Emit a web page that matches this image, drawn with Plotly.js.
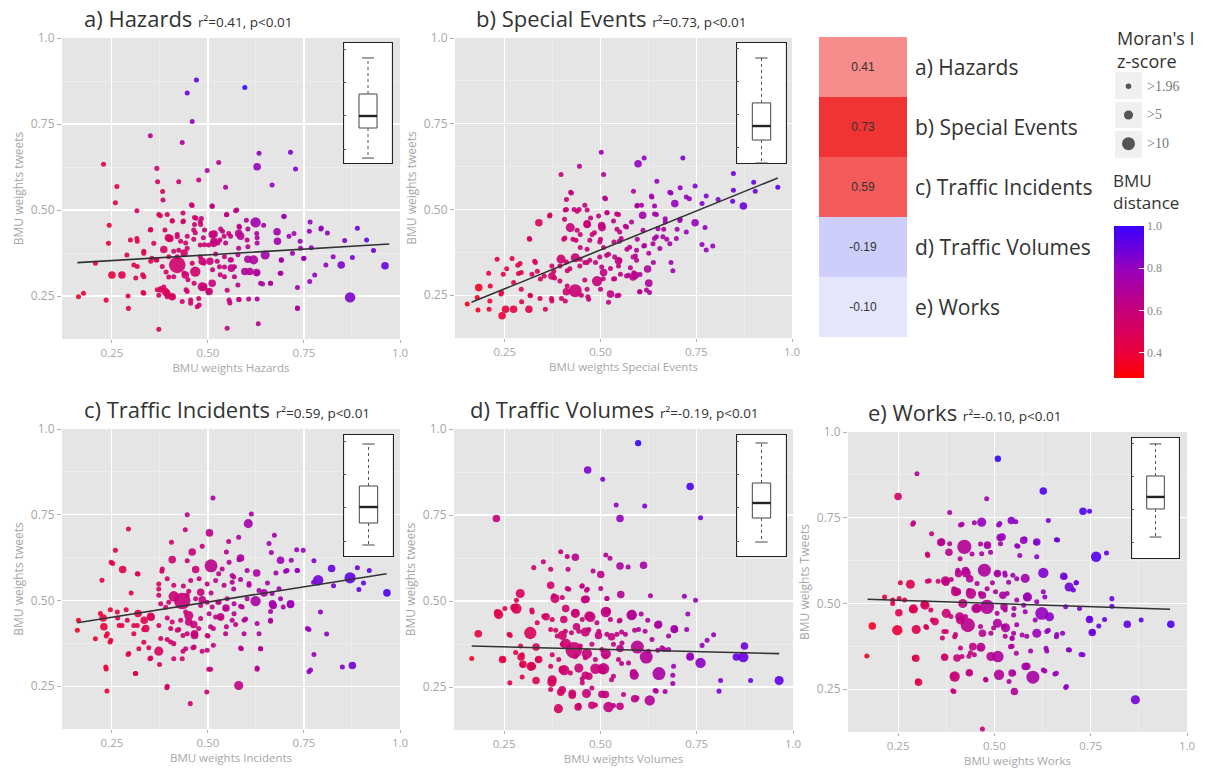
<!DOCTYPE html>
<html><head><meta charset="utf-8">
<script src="https://cdn.plot.ly/plotly-3.0.1.min.js"></script>
<style>html,body{margin:0;padding:0;background:#fff;}#chart{width:1205px;height:769px;}</style>
</head><body><div id="chart"></div>
<script>
// ---------- categories / labels ----------
const panels = ['a) Hazards','b) Special Events','c) Traffic Incidents','d) Traffic Volumes','e) Works'];
const rValues = [0.41,0.73,0.59,-0.19,-0.10];
const xTitles = ['BMU weights Hazards','BMU weights Special Events','BMU weights Incidents','BMU weights Volumes','BMU weights Works'];
const yTitles = ['BMU weights tweets','BMU weights tweets','BMU weights tweets','BMU weights tweets','BMU weights Tweets'];
const tickVals = [0.25,0.5,0.75,1.0];
const tickText = ['0.25','0.50','0.75','1.0'];
const legendZ = [1.96,5,10];
const legendLabels = ['>1.96','>5','>10'];
const cbVals = [0.4,0.6,0.8,1.0];
const cbText = ['0.4','0.6','0.8','1.0'];

// ---------- a) Hazards ----------
const aX = [0.470,0.596,0.446,0.459,0.350,0.433,0.228,0.367,0.498,0.528,
0.633,0.715,0.728,0.628,0.667,0.546,0.476,0.424,0.369,0.263,
0.259,0.382,0.315,0.459,0.511,0.548,0.572,0.624,0.698,0.766,
0.794,0.889,0.913,0.856,0.931,0.961,0.870,0.876,0.847,0.807,
0.826,0.778,0.765,0.733,0.733,0.749,0.741,0.720,0.724,0.680,
0.649,0.619,0.604,0.596,0.628,0.663,0.637,0.691,0.690,0.580,
0.580,0.604,0.582,0.602,0.554,0.531,0.515,0.491,0.480,0.463,
0.463,0.435,0.407,0.401,0.388,0.420,0.424,0.398,0.420,0.467,
0.441,0.411,0.489,0.511,0.502,0.530,0.543,0.569,0.569,0.578,
0.550,0.489,0.480,0.376,0.393,0.407,0.372,0.385,0.446,0.455,
0.472,0.476,0.433,0.557,0.580,0.606,0.628,0.631,0.550,0.372,
0.293,0.292,0.331,0.333,0.307,0.276,0.250,0.207,0.176,0.163,
0.235,0.289,0.298,0.241,0.243,0.350,0.359,0.376,0.367,0.333,
0.354,0.446,0.459,0.543,0.558,0.502,0.420,0.435,0.469,0.480,
0.520,0.315,0.391,0.533,0.600,0.516,
0.383,0.457,0.511,0.549,0.575,0.372,0.394,0.407,0.436,0.465,
0.483,0.465,0.481,0.351,0.316,0.333,0.397,0.420,0.429,0.442,
0.446,0.467,0.488,0.491,0.511,0.516,0.526,0.542,0.538,0.546,
0.559,0.585,0.581,0.604,0.645,0.627,0.628,0.628,0.681,0.711,
0.740,0.764,0.795,0.811,0.698,0.750,0.769,0.691,0.688,0.385,
0.438,0.411,0.381,0.398,0.438,0.448,0.485,0.505,0.524,0.512,
0.532,0.543,0.561,0.561,0.578,0.609,0.627,0.642,0.663,0.485,
0.503,0.464,0.443,0.455,0.477,0.377,0.389,0.407,0.394,0.368,
0.333,0.312,0.330,0.316,0.351,0.365,0.555,0.581,0.733];
const aY = [0.878,0.856,0.840,0.757,0.716,0.696,0.633,0.621,0.615,0.638,
0.665,0.668,0.619,0.626,0.573,0.566,0.587,0.582,0.582,0.568,
0.521,0.554,0.498,0.513,0.510,0.486,0.498,0.464,0.481,0.465,
0.445,0.447,0.413,0.411,0.382,0.338,0.246,0.362,0.340,0.340,
0.364,0.311,0.292,0.275,0.214,0.359,0.389,0.374,0.432,0.437,
0.369,0.355,0.357,0.321,0.316,0.287,0.287,0.355,0.316,0.432,
0.389,0.393,0.450,0.413,0.432,0.413,0.403,0.442,0.466,0.442,
0.415,0.466,0.469,0.417,0.442,0.422,0.383,0.364,0.340,0.321,
0.311,0.306,0.277,0.287,0.263,0.335,0.306,0.306,0.335,0.282,
0.267,0.345,0.364,0.267,0.258,0.248,0.252,0.276,0.263,0.229,
0.219,0.243,0.234,0.230,0.240,0.241,0.241,0.169,0.156,0.153,
0.214,0.250,0.260,0.306,0.340,0.311,0.311,0.345,0.258,0.248,
0.238,0.369,0.413,0.403,0.456,0.442,0.403,0.483,0.355,0.374,
0.360,0.389,0.345,0.364,0.355,0.398,0.364,0.491,0.476,0.398,
0.372,0.417,0.320,0.445,0.470,0.430,
0.529,0.515,0.512,0.487,0.500,0.487,0.487,0.468,0.468,0.478,
0.475,0.458,0.458,0.443,0.409,0.380,0.419,0.429,0.409,0.404,
0.424,0.434,0.419,0.399,0.429,0.409,0.404,0.424,0.438,0.404,
0.424,0.424,0.453,0.445,0.456,0.432,0.419,0.404,0.409,0.424,
0.409,0.438,0.448,0.433,0.482,0.360,0.390,0.354,0.316,0.385,
0.375,0.380,0.336,0.305,0.316,0.297,0.351,0.351,0.351,0.326,
0.312,0.334,0.331,0.355,0.370,0.321,0.318,0.285,0.287,0.277,
0.263,0.287,0.268,0.238,0.224,0.272,0.263,0.248,0.248,0.268,
0.258,0.302,0.312,0.336,0.351,0.355,0.238,0.240,0.215];
const aDist = [0.90,1.00,0.88,0.80,0.65,0.68,0.45,0.55,0.70,0.65,
0.82,0.85,0.85,0.80,0.80,0.70,0.60,0.55,0.50,0.45,
0.45,0.50,0.50,0.55,0.60,0.60,0.65,0.75,0.75,0.80,
0.80,0.90,0.90,0.85,0.90,0.90,0.85,0.85,0.85,0.80,
0.80,0.80,0.80,0.75,0.70,0.75,0.75,0.75,0.75,0.75,
0.75,0.70,0.70,0.70,0.70,0.70,0.70,0.70,0.70,0.65,
0.65,0.65,0.65,0.65,0.60,0.60,0.60,0.60,0.55,0.55,
0.55,0.55,0.50,0.50,0.50,0.55,0.55,0.50,0.55,0.55,
0.55,0.55,0.55,0.60,0.60,0.60,0.60,0.65,0.65,0.65,
0.60,0.55,0.55,0.50,0.50,0.50,0.50,0.50,0.55,0.55,
0.55,0.55,0.55,0.60,0.65,0.65,0.70,0.65,0.60,0.50,
0.45,0.45,0.45,0.45,0.45,0.45,0.40,0.40,0.40,0.35,
0.40,0.45,0.45,0.40,0.40,0.50,0.50,0.50,0.50,0.45,
0.50,0.55,0.55,0.60,0.62,0.60,0.55,0.55,0.55,0.55,
0.60,0.45,0.50,0.60,0.70,0.60,
0.55,0.58,0.62,0.62,0.65,0.50,0.52,0.52,0.55,0.55,
0.58,0.55,0.58,0.48,0.45,0.45,0.52,0.55,0.55,0.55,
0.55,0.58,0.58,0.58,0.60,0.60,0.60,0.62,0.62,0.62,
0.62,0.65,0.65,0.68,0.72,0.70,0.70,0.70,0.75,0.78,
0.78,0.80,0.82,0.82,0.78,0.78,0.80,0.75,0.72,0.52,
0.55,0.55,0.52,0.52,0.55,0.55,0.58,0.58,0.60,0.60,
0.60,0.62,0.62,0.62,0.65,0.68,0.70,0.70,0.70,0.58,
0.58,0.55,0.55,0.55,0.55,0.50,0.50,0.52,0.50,0.50,
0.45,0.45,0.45,0.45,0.48,0.50,0.60,0.62,0.72];
const aMoran = [1.6,1.6,1.6,1.6,1.6,1.6,1.6,1.6,1.6,1.6,
1.6,1.6,1.6,3.5,1.6,1.6,1.6,1.6,1.6,1.6,
1.6,1.6,1.6,1.6,1.6,1.6,1.6,6.5,1.6,1.6,
1.6,1.6,1.6,1.6,1.6,3.5,6.5,1.6,3.5,1.6,
1.6,1.6,1.6,1.6,1.6,1.6,1.6,1.6,1.6,3.5,
5,5,3.5,3.5,1.6,1.6,1.6,1.6,1.6,3.5,
1.6,1.6,1.6,1.6,1.6,1.6,3.5,1.6,1.6,1.6,
1.6,1.6,1.6,3.5,1.6,1.6,1.6,1.6,16,6.5,
3.5,1.6,3.5,3.5,1.6,1.6,1.6,1.6,1.6,1.6,
1.6,1.6,1.6,1.6,3.5,1.6,1.6,1.6,1.6,1.6,
1.6,1.6,1.6,1.6,1.6,1.6,1.6,1.6,1.6,1.6,
1.6,1.6,1.6,1.6,1.6,3.5,3.5,1.6,1.6,1.6,
1.6,1.6,1.6,1.6,1.6,1.6,1.6,1.6,1.6,1.6,
1.6,1.6,1.6,1.6,1.6,1.6,1.6,1.6,1.6,1.6,
1.6,1.6,1.6,1.6,1.6,3.5,
1.6,1.6,1.6,1.6,1.6,1.6,1.6,1.6,1.6,1.6,
1.6,1.6,1.6,1.6,1.6,1.6,3.5,1.6,1.6,1.6,
1.6,1.6,1.6,1.6,3.5,3.5,1.6,1.6,1.6,1.6,
1.6,3.5,1.6,1.6,1.6,1.6,1.6,1.6,3.5,1.6,
1.6,1.6,1.6,1.6,1.6,1.6,1.6,1.6,1.6,3.5,
3.5,1.6,1.6,1.6,1.6,1.6,3.5,3.5,1.6,1.6,
1.6,1.6,3.5,1.6,1.6,3.5,3.5,1.6,1.6,5,
3.5,1.6,1.6,1.6,1.6,1.6,3.5,3.5,1.6,1.6,
1.6,1.6,1.6,1.6,1.6,1.6,1.6,1.6,1.6];

// ---------- b) Special Events ----------
const bX = [0.502,0.445,0.397,0.508,0.598,0.614,0.715,0.647,0.708,0.747,
0.684,0.634,0.732,0.776,0.807,0.847,0.847,0.845,0.900,0.904,
0.963,0.873,0.765,0.694,0.747,0.773,0.765,0.793,0.776,0.595,
0.513,0.424,0.610,0.646,0.669,0.700,0.708,0.665,0.641,0.673,
0.613,0.626,0.591,0.638,0.684,0.689,0.623,0.626,0.628,0.602,
0.591,0.573,0.578,0.547,0.552,0.547,0.569,0.554,0.543,0.534,
0.565,0.547,0.517,0.504,0.484,0.495,0.465,0.421,0.465,0.408,
0.439,0.406,0.447,0.478,0.404,0.428,0.447,0.465,0.521,0.508,
0.500,0.487,0.465,0.447,0.434,0.397,0.373,0.373,0.413,0.394,
0.434,0.465,0.491,0.508,0.526,0.543,0.521,0.500,0.469,0.413,
0.408,0.373,0.356,0.343,0.330,0.321,0.293,0.293,0.313,0.317,
0.273,0.252,0.243,0.240,0.212,0.182,0.178,0.180,0.209,0.211,
0.152,0.230,0.208,0.246,0.269,0.273,0.284,0.339,0.367,0.315,
0.411,0.586,0.641,0.596,0.534,
0.422,0.511,0.633,0.681,0.724,0.596,0.607,0.641,0.669,0.707,
0.368,0.411,0.431,0.444,0.459,0.465,0.474,0.503,0.517,0.542,
0.550,0.568,0.581,0.611,0.650,0.646,0.663,0.637,0.615,0.594,
0.576,0.549,0.535,0.498,0.472,0.436,0.407,0.314,0.439,0.328,
0.335,0.353,0.378,0.380,0.394,0.411,0.420,0.446,0.459,0.472,
0.498,0.516,0.537,0.550,0.503,0.526,0.459,0.507,0.537,0.568,
0.585,0.587,0.603,0.411,0.450,0.467,0.398,0.372,0.342,0.316,
0.294,0.548,0.603,0.620,0.255,0.286,0.290,0.242,0.585,0.594,
0.655,0.681,0.698,0.724];
const bY = [0.667,0.626,0.602,0.602,0.633,0.650,0.650,0.582,0.563,0.568,
0.548,0.536,0.531,0.539,0.529,0.605,0.556,0.524,0.579,0.553,
0.565,0.510,0.517,0.517,0.461,0.447,0.398,0.393,0.382,0.510,
0.531,0.548,0.483,0.485,0.463,0.442,0.471,0.442,0.415,0.413,
0.393,0.372,0.364,0.345,0.345,0.321,0.326,0.285,0.258,0.260,
0.308,0.308,0.330,0.335,0.311,0.350,0.384,0.415,0.442,0.466,
0.451,0.485,0.490,0.447,0.432,0.481,0.456,0.447,0.498,0.498,
0.495,0.471,0.427,0.427,0.413,0.413,0.389,0.384,0.369,0.389,
0.413,0.345,0.345,0.355,0.359,0.355,0.335,0.306,0.321,0.291,
0.263,0.267,0.291,0.316,0.253,0.248,0.229,0.267,0.238,0.277,
0.233,0.233,0.209,0.297,0.345,0.311,0.316,0.267,0.209,0.248,
0.209,0.209,0.190,0.253,0.277,0.272,0.243,0.207,0.209,0.233,
0.224,0.355,0.314,0.311,0.357,0.287,0.337,0.461,0.481,0.413,
0.529,0.553,0.510,0.413,0.297,
0.550,0.533,0.539,0.550,0.536,0.512,0.512,0.487,0.473,0.468,
0.484,0.500,0.500,0.500,0.512,0.458,0.475,0.453,0.490,0.487,
0.434,0.449,0.463,0.439,0.444,0.420,0.420,0.400,0.395,0.381,
0.390,0.407,0.405,0.405,0.410,0.410,0.417,0.415,0.439,0.349,
0.320,0.306,0.320,0.300,0.335,0.347,0.327,0.335,0.345,0.352,
0.361,0.366,0.361,0.352,0.332,0.328,0.294,0.298,0.298,0.306,
0.303,0.315,0.310,0.260,0.250,0.245,0.240,0.240,0.240,0.250,
0.231,0.250,0.260,0.265,0.327,0.313,0.342,0.258,0.361,0.352,
0.386,0.400,0.415,0.434];
const bDist = [0.75,0.70,0.60,0.70,0.80,0.80,0.85,0.80,0.80,0.85,
0.80,0.75,0.80,0.85,0.85,0.90,0.90,0.90,0.90,0.90,
0.95,0.90,0.85,0.80,0.80,0.80,0.80,0.80,0.80,0.70,
0.65,0.60,0.75,0.75,0.75,0.75,0.75,0.70,0.70,0.70,
0.70,0.70,0.68,0.70,0.75,0.75,0.70,0.70,0.70,0.68,
0.68,0.65,0.65,0.62,0.62,0.62,0.65,0.65,0.62,0.62,
0.65,0.62,0.62,0.60,0.60,0.60,0.60,0.58,0.60,0.58,
0.58,0.58,0.58,0.60,0.55,0.58,0.58,0.58,0.60,0.60,
0.60,0.60,0.58,0.58,0.58,0.55,0.55,0.55,0.55,0.55,
0.58,0.58,0.60,0.62,0.62,0.62,0.60,0.60,0.58,0.55,
0.55,0.50,0.50,0.50,0.50,0.50,0.50,0.48,0.45,0.48,
0.42,0.40,0.40,0.42,0.40,0.35,0.35,0.35,0.38,0.38,
0.33,0.45,0.42,0.45,0.45,0.45,0.48,0.50,0.52,0.50,
0.58,0.70,0.75,0.68,0.62,
0.60,0.65,0.75,0.78,0.80,0.70,0.70,0.72,0.75,0.78,
0.52,0.58,0.58,0.58,0.60,0.60,0.60,0.62,0.62,0.62,
0.62,0.65,0.68,0.70,0.72,0.72,0.72,0.70,0.70,0.68,
0.65,0.62,0.62,0.60,0.60,0.58,0.55,0.50,0.58,0.50,
0.50,0.52,0.52,0.52,0.55,0.55,0.55,0.58,0.58,0.58,
0.60,0.60,0.62,0.62,0.60,0.62,0.58,0.60,0.62,0.65,
0.65,0.65,0.68,0.55,0.58,0.58,0.55,0.52,0.50,0.48,
0.45,0.62,0.65,0.68,0.42,0.45,0.45,0.40,0.65,0.65,
0.72,0.75,0.75,0.78];
const bMoran = [1.6,1.6,1.6,1.6,3.5,1.6,1.6,1.6,1.6,1.6,
1.6,1.6,1.6,1.6,1.6,1.6,1.6,1.6,1.6,1.6,
1.6,3.5,1.6,3.5,3.5,1.6,1.6,1.6,1.6,1.6,
1.6,1.6,3.5,1.6,1.6,1.6,1.6,1.6,1.6,1.6,
1.6,1.6,1.6,1.6,1.6,1.6,3.5,3.5,1.6,1.6,
3.5,1.6,1.6,1.6,1.6,3.5,1.6,1.6,1.6,1.6,
1.6,1.6,1.6,3.5,1.6,1.6,3.5,5,1.6,1.6,
1.6,1.6,1.6,1.6,1.6,1.6,1.6,1.6,1.6,1.6,
1.6,1.6,1.6,1.6,5,5,1.6,3.5,1.6,1.6,
10,1.6,6.5,3.5,3.5,1.6,1.6,1.6,1.6,1.6,
1.6,1.6,1.6,1.6,1.6,1.6,1.6,1.6,3.5,1.6,
3.5,3.5,3.5,1.6,1.6,3.5,1.6,1.6,1.6,1.6,
1.6,1.6,1.6,1.6,1.6,1.6,1.6,3.5,1.6,1.6,
1.6,1.6,1.6,1.6,1.6,
1.6,1.6,1.6,1.6,1.6,1.6,1.6,1.6,1.6,1.6,
1.6,1.6,1.6,1.6,1.6,3.5,1.6,3.5,1.6,1.6,
1.6,1.6,1.6,1.6,1.6,1.6,1.6,1.6,1.6,1.6,
1.6,1.6,1.6,1.6,1.6,1.6,1.6,1.6,1.6,1.6,
1.6,1.6,1.6,1.6,1.6,1.6,1.6,1.6,1.6,1.6,
1.6,1.6,1.6,1.6,1.6,1.6,1.6,1.6,1.6,1.6,
3.5,1.6,1.6,3.5,1.6,1.6,1.6,1.6,1.6,1.6,
1.6,1.6,1.6,1.6,1.6,1.6,1.6,1.6,1.6,1.6,
1.6,1.6,1.6,1.6];

// ---------- c) Traffic Incidents ----------
const cX = [0.513,0.446,0.613,0.293,0.441,0.504,0.605,0.580,0.673,0.405,
0.554,0.659,0.259,0.459,0.485,0.548,0.665,0.731,0.748,0.248,
0.407,0.585,0.508,0.689,0.717,0.776,0.468,0.822,0.889,0.920,
0.380,0.318,0.528,0.567,0.627,0.677,0.702,0.733,0.787,0.870,
0.893,0.905,0.827,0.775,0.966,0.278,0.224,0.300,0.372,0.433,
0.411,0.450,0.485,0.508,0.526,0.567,0.607,0.624,0.646,0.667,
0.670,0.715,0.696,0.663,0.663,0.628,0.598,0.585,0.547,0.533,
0.507,0.548,0.572,0.500,0.463,0.450,0.465,0.435,0.411,0.435,
0.461,0.372,0.346,0.349,0.374,0.411,0.485,0.502,0.497,0.454,
0.393,0.580,0.587,0.637,0.628,0.633,0.763,0.793,0.809,0.776,
0.763,0.850,0.876,0.333,0.334,0.352,0.318,0.287,0.307,0.276,
0.265,0.246,0.227,0.229,0.235,0.245,0.207,0.163,0.160,0.220,
0.235,0.237,0.292,0.311,0.333,0.394,0.394,0.424,0.252,0.390,
0.316,0.381,0.446,0.555,0.581,0.537,0.563,0.602,0.706,0.732,
0.372,0.394,0.411,0.436,0.455,0.477,0.498,0.520,0.542,0.563,
0.585,0.607,0.633,0.655,0.398,0.377,0.372,0.446,0.468,0.481,
0.481,0.498,0.511,0.529,0.546,0.550,0.568,0.589,0.602,0.668,
0.689,0.715,0.442,0.429,0.450,0.481,0.503,0.520,0.533,0.568,
0.563,0.594,0.663,0.351,0.338,0.372,0.407,0.403,0.420,0.476,
0.446,0.498,0.514,0.546,0.594,0.465,0.316,0.290,0.269,0.264,
0.238,0.247,0.307,0.320,0.351,0.377,0.403,0.433,0.442,0.464,
0.498,0.514,0.585,0.637,0.628,0.507,0.294,0.234,0.312,0.394,
0.759,0.767,0.685];
const cY = [0.799,0.750,0.752,0.708,0.706,0.697,0.724,0.684,0.690,0.670,
0.672,0.666,0.646,0.641,0.658,0.641,0.640,0.648,0.646,0.611,
0.619,0.624,0.601,0.617,0.617,0.616,0.590,0.593,0.595,0.587,
0.585,0.577,0.578,0.568,0.580,0.580,0.585,0.587,0.559,0.566,
0.532,0.551,0.543,0.553,0.522,0.590,0.559,0.522,0.533,0.498,
0.512,0.527,0.502,0.522,0.495,0.533,0.549,0.498,0.522,0.520,
0.485,0.488,0.481,0.468,0.439,0.433,0.446,0.483,0.478,0.449,
0.423,0.423,0.430,0.396,0.430,0.456,0.398,0.398,0.374,0.352,
0.362,0.352,0.362,0.330,0.313,0.330,0.352,0.299,0.233,0.199,
0.245,0.252,0.359,0.359,0.299,0.403,0.415,0.466,0.402,0.342,
0.292,0.306,0.310,0.415,0.442,0.451,0.462,0.473,0.427,0.427,
0.449,0.473,0.449,0.423,0.396,0.379,0.388,0.442,0.413,0.462,
0.300,0.236,0.342,0.287,0.378,0.386,0.449,0.415,0.608,0.480,
0.578,0.592,0.616,0.611,0.619,0.592,0.573,0.587,0.587,0.587,
0.548,0.563,0.544,0.542,0.558,0.563,0.548,0.558,0.544,0.553,
0.561,0.544,0.529,0.551,0.495,0.490,0.515,0.515,0.505,0.524,
0.485,0.495,0.481,0.495,0.476,0.505,0.490,0.481,0.505,0.490,
0.505,0.490,0.466,0.442,0.437,0.447,0.461,0.452,0.452,0.461,
0.442,0.442,0.442,0.454,0.418,0.427,0.437,0.418,0.413,0.418,
0.403,0.398,0.418,0.403,0.403,0.403,0.427,0.442,0.427,0.466,
0.403,0.384,0.403,0.359,0.332,0.389,0.379,0.330,0.359,0.364,
0.355,0.369,0.361,0.359,0.303,0.299,0.345,0.306,0.287,0.250,
0.418,0.297,0.534];
const cDist = [0.70,0.65,0.75,0.50,0.60,0.65,0.75,0.70,0.75,0.55,
0.65,0.75,0.45,0.60,0.62,0.65,0.75,0.80,0.80,0.45,
0.55,0.70,0.65,0.78,0.78,0.85,0.60,0.90,0.90,0.92,
0.55,0.50,0.65,0.68,0.70,0.75,0.78,0.80,0.88,0.92,
0.92,0.92,0.88,0.85,0.95,0.45,0.42,0.48,0.52,0.60,
0.58,0.60,0.62,0.62,0.62,0.68,0.70,0.72,0.72,0.75,
0.75,0.78,0.75,0.72,0.72,0.70,0.68,0.68,0.65,0.62,
0.62,0.65,0.65,0.60,0.60,0.60,0.60,0.58,0.55,0.55,
0.58,0.50,0.50,0.50,0.52,0.55,0.60,0.60,0.58,0.55,
0.52,0.62,0.65,0.68,0.68,0.70,0.80,0.82,0.82,0.80,
0.80,0.85,0.88,0.48,0.45,0.48,0.45,0.45,0.45,0.42,
0.42,0.40,0.40,0.40,0.40,0.40,0.38,0.35,0.35,0.40,
0.40,0.40,0.45,0.45,0.48,0.52,0.55,0.55,0.45,0.55,
0.48,0.52,0.58,0.68,0.70,0.65,0.68,0.70,0.78,0.80,
0.52,0.55,0.55,0.58,0.58,0.60,0.62,0.62,0.65,0.68,
0.68,0.70,0.72,0.72,0.55,0.55,0.55,0.58,0.60,0.60,
0.60,0.62,0.62,0.65,0.65,0.65,0.68,0.68,0.70,0.75,
0.75,0.78,0.58,0.58,0.60,0.60,0.62,0.62,0.62,0.65,
0.65,0.68,0.72,0.50,0.48,0.52,0.55,0.55,0.55,0.60,
0.58,0.60,0.62,0.65,0.68,0.60,0.45,0.45,0.42,0.42,
0.40,0.40,0.45,0.48,0.50,0.52,0.55,0.55,0.58,0.58,
0.60,0.62,0.65,0.70,0.68,0.60,0.45,0.40,0.45,0.52,
0.80,0.80,0.75];
const cMoran = [1.6,1.6,1.6,1.6,1.6,3.5,5,1.6,1.6,1.6,
1.6,1.6,1.6,3.5,1.6,1.6,1.6,1.6,1.6,1.6,
3.5,3.5,10,3.5,1.6,1.6,3.5,3.5,1.6,1.6,
1.6,1.6,1.6,1.6,3.5,1.6,1.6,1.6,6.5,7.5,
1.6,1.6,1.6,1.6,3.5,3.5,1.6,1.6,1.6,16,
6.5,1.6,3.5,1.6,1.6,1.6,1.6,6.5,3.5,1.6,
3.5,3.5,1.6,1.6,1.6,1.6,1.6,1.6,3.5,1.6,
1.6,1.6,1.6,1.6,3.5,5,3.5,1.6,1.6,1.6,
1.6,5,1.6,1.6,1.6,1.6,1.6,1.6,1.6,1.6,
1.6,5,1.6,1.6,1.6,1.6,1.6,1.6,1.6,1.6,
1.6,1.6,3.5,1.6,3.5,3.5,3.5,1.6,1.6,1.6,
1.6,1.6,3.5,3.5,1.6,1.6,1.6,1.6,1.6,1.6,
1.6,1.6,1.6,1.6,1.6,1.6,1.6,1.6,1.6,1.6,
1.6,1.6,1.6,1.6,1.6,1.6,1.6,1.6,1.6,1.6,
1.6,1.6,1.6,1.6,1.6,1.6,1.6,1.6,1.6,1.6,
1.6,1.6,1.6,1.6,1.6,1.6,1.6,1.6,1.6,3.5,
1.6,1.6,1.6,1.6,1.6,1.6,1.6,1.6,1.6,3.5,
1.6,3.5,1.6,1.6,3.5,1.6,1.6,1.6,3.5,1.6,
1.6,1.6,1.6,3.5,3.5,1.6,1.6,1.6,1.6,1.6,
1.6,1.6,1.6,1.6,1.6,3.5,1.6,1.6,1.6,1.6,
1.6,1.6,1.6,1.6,1.6,1.6,1.6,1.6,1.6,1.6,
1.6,1.6,1.6,1.6,1.6,1.6,1.6,1.6,1.6,1.6,
1.6,1.6,1.6];

// ---------- d) Traffic Volumes ----------
const dX = [0.598,0.467,0.506,0.733,0.541,0.615,0.230,0.551,0.760,0.397,
0.435,0.514,0.414,0.525,0.551,0.572,0.612,0.352,0.327,0.371,
0.416,0.481,0.501,0.371,0.452,0.501,0.464,0.292,0.382,0.414,
0.459,0.517,0.553,0.630,0.718,0.747,0.282,0.252,0.236,0.282,
0.323,0.359,0.410,0.435,0.474,0.514,0.551,0.581,0.606,0.623,
0.649,0.692,0.724,0.727,0.794,0.777,0.764,0.183,0.266,0.318,
0.333,0.384,0.401,0.438,0.461,0.495,0.529,0.555,0.589,0.431,
0.410,0.465,0.514,0.551,0.596,0.619,0.649,0.666,0.733,0.760,
0.853,0.871,0.874,0.812,0.808,0.890,0.964,0.166,0.246,0.265,
0.294,0.299,0.320,0.340,0.333,0.297,0.374,0.371,0.397,0.406,
0.427,0.444,0.464,0.461,0.487,0.508,0.504,0.521,0.551,0.478,
0.391,0.442,0.589,0.628,0.645,0.588,0.652,0.688,0.688,0.668,
0.555,0.529,0.453,
0.379,0.401,0.418,0.453,0.466,0.463,0.517,0.276,0.233,0.322,
0.353,0.336,0.375,0.405,0.435,0.453,0.470,0.491,0.517,0.526,
0.549,0.582,0.599,0.616,0.651,0.692,0.634,0.677,0.263,0.371,
0.388,0.409,0.425,0.444,0.470,0.496,0.517,0.543,0.565,0.401,
0.448,0.478,0.504,0.534,0.556,0.625,0.660,0.677,0.297,0.336,
0.375,0.392,0.435,0.461,0.487,0.513,0.547,0.573,0.323,0.297,
0.371,0.401,0.422,0.444,0.470,0.504,0.534,0.586,0.690,0.733,
0.375,0.401,0.427,0.453,0.478,0.513,0.560,0.595,0.444,0.487,
0.534,0.642,0.280,0.293,0.246];
const dY = [0.959,0.881,0.854,0.833,0.779,0.776,0.740,0.740,0.742,0.643,
0.627,0.634,0.629,0.624,0.602,0.599,0.604,0.614,0.597,0.592,
0.592,0.587,0.577,0.546,0.543,0.536,0.531,0.522,0.507,0.536,
0.504,0.507,0.519,0.515,0.514,0.502,0.502,0.478,0.461,0.478,
0.468,0.454,0.478,0.464,0.454,0.468,0.444,0.459,0.462,0.444,
0.430,0.417,0.417,0.462,0.402,0.386,0.371,0.405,0.400,0.407,
0.366,0.415,0.400,0.425,0.410,0.400,0.396,0.410,0.415,0.357,
0.376,0.347,0.347,0.362,0.366,0.337,0.357,0.359,0.337,0.320,
0.337,0.337,0.369,0.269,0.238,0.269,0.269,0.333,0.330,0.262,
0.337,0.316,0.310,0.330,0.269,0.279,0.264,0.243,0.235,0.299,
0.226,0.197,0.231,0.284,0.303,0.303,0.229,0.192,0.194,0.197,
0.187,0.192,0.216,0.211,0.238,0.284,0.289,0.284,0.260,0.237,
0.318,0.271,0.274,
0.515,0.510,0.534,0.544,0.534,0.505,0.507,0.481,0.466,0.474,
0.456,0.437,0.446,0.446,0.466,0.446,0.456,0.437,0.471,0.446,
0.442,0.461,0.417,0.412,0.432,0.419,0.388,0.398,0.403,0.417,
0.398,0.412,0.408,0.412,0.417,0.412,0.403,0.403,0.403,0.374,
0.369,0.374,0.359,0.374,0.378,0.354,0.364,0.359,0.344,0.330,
0.344,0.330,0.339,0.335,0.330,0.338,0.330,0.320,0.310,0.315,
0.310,0.301,0.291,0.305,0.281,0.301,0.281,0.291,0.310,0.339,
0.271,0.242,0.232,0.262,0.247,0.228,0.228,0.218,0.194,0.198,
0.196,0.240,0.350,0.369,0.330];
const dDist = [1.00,0.85,0.85,0.95,0.80,0.85,0.60,0.80,0.90,0.60,
0.65,0.68,0.62,0.68,0.70,0.70,0.72,0.58,0.55,0.58,
0.62,0.65,0.65,0.55,0.62,0.65,0.62,0.50,0.55,0.58,
0.60,0.65,0.68,0.72,0.80,0.80,0.48,0.45,0.45,0.48,
0.50,0.52,0.55,0.58,0.60,0.62,0.65,0.68,0.70,0.70,
0.70,0.75,0.78,0.78,0.80,0.80,0.80,0.40,0.45,0.50,
0.50,0.52,0.55,0.58,0.58,0.60,0.62,0.65,0.68,0.58,
0.56,0.60,0.62,0.65,0.66,0.68,0.70,0.72,0.80,0.82,
0.90,0.90,0.90,0.85,0.85,0.90,0.92,0.35,0.40,0.42,
0.45,0.45,0.48,0.48,0.48,0.45,0.50,0.50,0.52,0.55,
0.55,0.55,0.60,0.58,0.60,0.62,0.62,0.62,0.62,0.58,
0.52,0.55,0.65,0.68,0.68,0.68,0.72,0.75,0.75,0.72,
0.65,0.62,0.58,
0.55,0.58,0.60,0.62,0.62,0.62,0.65,0.48,0.45,0.50,
0.52,0.50,0.52,0.55,0.58,0.58,0.60,0.60,0.62,0.62,
0.65,0.68,0.68,0.70,0.72,0.75,0.70,0.72,0.45,0.52,
0.55,0.55,0.58,0.58,0.60,0.60,0.62,0.62,0.65,0.55,
0.58,0.60,0.60,0.62,0.65,0.68,0.70,0.72,0.45,0.48,
0.52,0.55,0.58,0.58,0.60,0.60,0.62,0.65,0.48,0.45,
0.52,0.55,0.55,0.58,0.58,0.60,0.62,0.65,0.75,0.78,
0.52,0.55,0.55,0.58,0.60,0.60,0.62,0.65,0.58,0.60,
0.62,0.68,0.45,0.45,0.42];
const dMoran = [2.5,3.5,1.6,3.5,1.6,1.6,3.5,3.5,1.6,1.6,
3.5,1.6,1.6,1.6,3.5,1.6,3.5,1.6,1.6,1.6,
1.6,1.6,3.5,3.5,1.6,1.6,1.6,5,5,1.6,
3.5,1.6,3.5,1.6,1.6,1.6,1.6,1.6,5,6.5,
1.6,3.5,3.5,5,6.5,6.5,1.6,6.5,1.6,1.6,
3.5,3.5,1.6,1.6,1.6,1.6,1.6,3.5,1.6,9,
3.5,1.6,5,3.5,5,3.5,3.5,1.6,1.6,16,
6.5,6.5,6.5,3.5,10,10,1.6,1.6,3.5,6.5,
3.5,6.5,3.5,1.6,1.6,1.6,5,1.6,3.5,1.6,
3.5,3.5,5,3.5,3.5,1.6,5,1.6,3.5,6.5,
3.5,1.6,5,3.5,6.5,8,3.5,6.5,3.5,3.5,
5,3.5,3.5,6.5,1.6,5,10,1.6,1.6,1.6,
1.6,1.6,1.6,
1.6,1.6,1.6,1.6,1.6,3.5,1.6,3.5,3.5,1.6,
1.6,1.6,1.6,3.5,3.5,1.6,5,1.6,3.5,1.6,
1.6,5,1.6,1.6,3.5,3.5,1.6,1.6,1.6,1.6,
1.6,1.6,1.6,1.6,1.6,1.6,1.6,1.6,1.6,1.6,
1.6,1.6,1.6,1.6,1.6,1.6,1.6,1.6,1.6,1.6,
1.6,1.6,1.6,1.6,1.6,1.6,1.6,1.6,3.5,1.6,
1.6,3.5,1.6,5,3.5,5,1.6,3.5,1.6,3.5,
5,3.5,3.5,1.6,1.6,3.5,1.6,1.6,1.6,1.6,
1.6,1.6,1.6,1.6,1.6];

// ---------- e) Works ----------
const eX = [0.509,0.299,0.627,0.250,0.480,0.730,0.747,0.384,0.467,0.514,
0.544,0.640,0.290,0.416,0.448,0.337,0.520,0.363,0.384,0.422,
0.482,0.516,0.576,0.610,0.561,0.661,0.764,0.791,0.327,0.467,
0.566,0.610,0.474,0.427,0.405,0.388,0.373,0.508,0.527,0.548,
0.580,0.627,0.680,0.694,0.712,0.705,0.282,0.256,0.331,0.354,
0.399,0.439,0.469,0.522,0.495,0.586,0.627,0.805,0.805,0.267,
0.236,0.215,0.320,0.290,0.252,0.481,0.452,0.418,0.525,0.551,
0.576,0.623,0.643,0.606,0.685,0.721,0.747,0.786,0.771,0.754,
0.845,0.881,0.958,0.183,0.248,0.297,0.324,0.346,0.375,0.375,
0.397,0.431,0.410,0.469,0.491,0.508,0.529,0.546,0.572,0.610,
0.640,0.661,0.677,0.444,0.465,0.416,0.448,0.509,0.491,0.542,
0.557,0.634,0.695,0.730,0.169,0.296,0.371,0.303,0.397,0.435,
0.478,0.512,0.546,0.580,0.600,0.627,0.657,0.538,0.395,0.552,
0.685,0.866,0.469,
0.288,0.412,0.511,0.556,0.361,0.382,0.464,0.481,0.490,0.515,
0.558,0.579,0.608,0.664,0.326,0.411,0.442,0.425,0.407,0.436,
0.455,0.507,0.528,0.537,0.558,0.683,0.713,0.326,0.374,0.395,
0.404,0.434,0.464,0.481,0.503,0.533,0.558,0.584,0.631,0.610,
0.253,0.236,0.318,0.288,0.335,0.387,0.412,0.425,0.455,0.507,
0.528,0.550,0.580,0.339,0.369,0.399,0.464,0.498,0.524,0.558,
0.550,0.528,0.584,0.636,0.662,0.747,0.755,0.322,0.365,0.412,
0.403,0.438,0.464,0.546,0.546,0.594,0.636,0.692,0.725,0.292,
0.370,0.434,0.395,0.434,0.477,0.550,0.584,0.631,0.661,0.301,
0.392,0.687];
const eY = [0.922,0.878,0.828,0.812,0.805,0.769,0.769,0.765,0.737,0.733,
0.742,0.742,0.735,0.731,0.735,0.703,0.694,0.679,0.674,0.665,
0.670,0.674,0.684,0.679,0.667,0.686,0.636,0.647,0.640,0.645,
0.640,0.636,0.597,0.589,0.597,0.570,0.566,0.587,0.589,0.582,
0.573,0.589,0.579,0.548,0.560,0.539,0.556,0.560,0.566,0.565,
0.534,0.529,0.524,0.524,0.560,0.519,0.534,0.514,0.492,0.510,
0.500,0.519,0.495,0.484,0.473,0.490,0.485,0.500,0.490,0.485,
0.495,0.471,0.461,0.452,0.490,0.485,0.453,0.453,0.434,0.415,
0.439,0.452,0.439,0.434,0.422,0.424,0.430,0.447,0.471,0.418,
0.403,0.437,0.461,0.413,0.413,0.442,0.429,0.398,0.408,0.413,
0.422,0.403,0.413,0.374,0.372,0.345,0.350,0.345,0.345,0.374,
0.355,0.369,0.364,0.350,0.347,0.340,0.343,0.270,0.287,0.298,
0.277,0.292,0.297,0.316,0.285,0.306,0.294,0.272,0.243,0.243,
0.255,0.219,0.134,
0.731,0.729,0.729,0.738,0.678,0.649,0.673,0.668,0.649,0.692,
0.668,0.688,0.678,0.685,0.644,0.630,0.644,0.596,0.587,0.572,
0.558,0.587,0.582,0.562,0.572,0.577,0.560,0.565,0.562,0.543,
0.534,0.538,0.529,0.543,0.534,0.529,0.510,0.519,0.519,0.505,
0.514,0.510,0.498,0.483,0.481,0.462,0.452,0.462,0.486,0.471,
0.481,0.466,0.476,0.452,0.418,0.409,0.433,0.428,0.433,0.438,
0.413,0.404,0.404,0.418,0.409,0.457,0.418,0.433,0.399,0.370,
0.341,0.356,0.370,0.399,0.375,0.361,0.361,0.365,0.351,0.341,
0.346,0.346,0.288,0.298,0.279,0.296,0.317,0.303,0.296,0.274,
0.245,0.258];
const eDist = [1.00,0.70,0.95,0.55,0.75,0.95,0.95,0.70,0.80,0.80,
0.82,0.85,0.60,0.70,0.72,0.62,0.78,0.65,0.65,0.68,
0.72,0.75,0.80,0.85,0.80,0.88,0.95,0.92,0.55,0.70,
0.78,0.82,0.70,0.68,0.65,0.62,0.62,0.72,0.75,0.75,
0.75,0.85,0.88,0.88,0.88,0.88,0.48,0.45,0.55,0.58,
0.62,0.65,0.68,0.72,0.70,0.75,0.80,0.90,0.90,0.45,
0.42,0.40,0.50,0.48,0.45,0.68,0.65,0.62,0.70,0.72,
0.75,0.80,0.82,0.78,0.85,0.85,0.90,0.90,0.90,0.90,
0.92,0.92,0.95,0.35,0.40,0.45,0.50,0.52,0.58,0.55,
0.58,0.65,0.62,0.65,0.68,0.70,0.70,0.70,0.72,0.78,
0.80,0.80,0.82,0.62,0.68,0.60,0.62,0.70,0.68,0.70,
0.70,0.78,0.82,0.85,0.35,0.45,0.55,0.45,0.60,0.62,
0.65,0.68,0.70,0.72,0.72,0.75,0.78,0.70,0.58,0.68,
0.80,0.88,0.60,
0.62,0.72,0.80,0.82,0.65,0.65,0.72,0.72,0.72,0.78,
0.80,0.82,0.85,0.88,0.58,0.68,0.70,0.68,0.66,0.68,
0.68,0.72,0.75,0.75,0.75,0.88,0.88,0.55,0.62,0.62,
0.62,0.65,0.68,0.70,0.70,0.72,0.75,0.78,0.80,0.78,
0.45,0.42,0.50,0.48,0.52,0.58,0.62,0.62,0.65,0.70,
0.70,0.72,0.75,0.52,0.55,0.58,0.65,0.68,0.70,0.72,
0.72,0.70,0.75,0.80,0.80,0.90,0.90,0.50,0.55,0.60,
0.60,0.62,0.65,0.70,0.70,0.75,0.78,0.82,0.85,0.48,
0.55,0.62,0.58,0.62,0.65,0.70,0.72,0.75,0.78,0.45,
0.58,0.80];
const eMoran = [2.5,1.6,3.5,3.5,1.6,3.5,1.6,1.6,5,1.6,
3.5,1.6,1.6,1.6,1.6,1.6,3.5,3.5,1.6,12,
3.5,1.6,3.5,3.5,1.6,1.6,6.5,1.6,1.6,1.6,
1.6,1.6,10,5,1.6,1.6,5,3.5,1.6,1.6,
5,6.5,3.5,5,1.6,1.6,5,1.6,1.6,1.6,
5,6.5,3.5,3.5,1.6,5,1.6,1.6,1.6,1.6,
1.6,1.6,5,5,3.5,12,5,5,3.5,1.6,
1.6,10,5,1.6,1.6,1.6,3.5,1.6,1.6,3.5,
3.5,1.6,3.5,3.5,6.5,5,1.6,3.5,5,1.6,
1.6,12,5,3.5,1.6,5,5,1.6,1.6,5,
1.6,1.6,1.6,3.5,5,1.6,1.6,8,5,1.6,
1.6,1.6,1.6,1.6,1.6,3.5,3.5,3.5,6.5,3.5,
1.6,6.5,3.5,3.5,10,1.6,1.6,1.6,1.6,3.5,
1.6,5,1.6,
1.6,1.6,1.6,1.6,3.5,3.5,1.6,1.6,1.6,3.5,
1.6,1.6,1.6,1.6,1.6,1.6,1.6,3.5,3.5,3.5,
1.6,1.6,1.6,1.6,1.6,1.6,1.6,1.6,3.5,1.6,
3.5,1.6,1.6,1.6,1.6,1.6,1.6,3.5,1.6,1.6,
1.6,1.6,3.5,3.5,1.6,1.6,5,1.6,5,1.6,
1.6,1.6,1.6,1.6,1.6,1.6,1.6,1.6,1.6,1.6,
1.6,1.6,1.6,1.6,1.6,1.6,1.6,1.6,1.6,1.6,
3.5,1.6,1.6,1.6,1.6,1.6,1.6,1.6,1.6,1.6,
1.6,1.6,3.5,1.6,1.6,1.6,3.5,1.6,1.6,1.6,
1.6,1.6];

// ---------- regression fits (end points) ----------
const fitX0 = [0.160,0.163,0.160,0.166,0.171];
const fitX1 = [0.972,0.963,0.965,0.964,0.956];
const fitY0 = [0.347,0.229,0.435,0.369,0.512];
const fitY1 = [0.401,0.592,0.578,0.347,0.483];

// ---------- inset box plots ----------
const boxLower = [0.146,0.109,0.176,0.194,0.236];
const boxQ1    = [0.326,0.248,0.308,0.338,0.406];
const boxMed   = [0.398,0.333,0.404,0.428,0.479];
const boxQ3    = [0.530,0.473,0.530,0.548,0.606];
const boxUpper = [0.746,0.745,0.782,0.788,0.800];

// ================= rendering =================
const allX = [aX,bX,cX,dX,eX], allY = [aY,bY,cY,dY,eY];
const allD = [aDist,bDist,cDist,dDist,eDist], allZ = [aMoran,bMoran,cMoran,dMoran,eMoran];

const FONT = '"Open Sans", "Noto Sans", sans-serif';
const SERIF = '"Liberation Serif", "DejaVu Serif", serif';
const W = 1205, H = 769;
const px = v => v / W, py = v => 1 - v / H;
const sizePx = z => 4.2 * Math.sqrt(z) - 0.3;
const distScale = [[0,'#ff0000'],[0.167,'#ea003c'],[0.444,'#c6007a'],[0.722,'#9600be'],[1,'#3a00ff']];

const geo = [{l:62,r:400,t:38,b:339},{l:455,r:792,t:38,b:338},{l:62,r:400,t:429,b:729},{l:454,r:793,t:429,b:730},{l:848,r:1187,t:432,b:732}];
const inGeo = [{l:343,r:393,t:42,b:164},{l:736,r:787,t:42,b:164},{l:343,r:394,t:434,b:557},{l:736,r:787,t:434,b:557},{l:1131,r:1180,t:437,b:559}];
const inRange = [[0.110,0.842],[0.103,0.842],[0.104,0.842],[0.104,0.842],[0.103,0.842]];
const titlePos = [{x:82,y:18},{x:474,y:18},{x:82,y:409},{x:468,y:409},{x:866,y:412}];

const gray = '#a6a6a6';
const traces = [];
const layout = {
  width: W, height: H, margin:{l:0,r:0,t:0,b:0},
  paper_bgcolor:'#ffffff', plot_bgcolor:'#e5e5e5', showlegend:false,
  font:{family:FONT, color:'#333'}, annotations:[], shapes:[]
};

for (let i = 0; i < 5; i++) {
  const n = i + 1, k = n === 1 ? '' : String(n), g = geo[i];
  const axBase = {
    tickmode:'array', tickvals:tickVals, ticktext:tickText,
    ticks:'outside', tickcolor:'#b0b0b0',
    showgrid:true, gridcolor:'#ffffff', gridwidth:1.1, zeroline:false, showline:false,
    minor:{tickmode:'array', tickvals:[0.375,0.625,0.875], showgrid:true, gridcolor:'#f2f2f2', gridwidth:0.6, ticks:''},
    automargin:false, fixedrange:true
  };
  layout['xaxis' + k] = Object.assign({}, axBase, {
    domain:[px(g.l), px(g.r)], anchor:'y' + k, range:[0.12, 1.0],
    ticklen:3, tickfont:{family:FONT, size:11.5, color:gray},
    title:{text:xTitles[i], font:{family:FONT, size:11.5, color:gray}, standoff:2}
  });
  layout['yaxis' + k] = Object.assign({}, axBase, {
    domain:[py(g.b), py(g.t)], anchor:'x' + k, range:[0.125, 1.0],
    ticklen:4, tickfont:{family:FONT, size:12, color:gray},
    title:{text:yTitles[i], font:{family:FONT, size:12, color:gray}, standoff:4}
  });

  traces.push({
    type:'scatter', mode:'markers', x:allX[i], y:allY[i], xaxis:'x' + k, yaxis:'y' + k,
    hoverinfo:'skip',
    marker:{
      color:allD[i], colorscale:distScale, cmin:0.28, cmax:1.0,
      size:allZ[i].map(sizePx), opacity:0.9, line:{width:0},
      showscale: i === 0,
      colorbar:{
        x:px(1114), xanchor:'left', xpad:0, y:py(302), yanchor:'middle', ypad:0,
        len:152, lenmode:'pixels', thickness:30, thicknessmode:'pixels',
        outlinewidth:0, ticks:'inside', ticklen:5, tickcolor:'#ffffff', tickwidth:1,
        tickmode:'array', tickvals:cbVals, ticktext:cbText,
        tickfont:{family:SERIF, size:12, color:'#888'}
      }
    }
  });
  traces.push({
    type:'scatter', mode:'lines', x:[fitX0[i], fitX1[i]], y:[fitY0[i], fitY1[i]],
    xaxis:'x' + k, yaxis:'y' + k, hoverinfo:'skip',
    line:{color:'#333333', width:1.6}
  });

  layout.annotations.push({
    xref:'paper', yref:'paper', x:px(titlePos[i].x), y:py(titlePos[i].y), xanchor:'left', yanchor:'middle',
    align:'left', showarrow:false,
    text: panels[i] + ' <span style="font-size:13.5px">r²=' + rValues[i].toFixed(2) + ', p&lt;0.01</span>',
    font:{family:FONT, size:22, color:'#333'}
  });

  // inset box plot
  const m = i + 6, ig = inGeo[i], rg = inRange[i];
  layout['xaxis' + m] = {domain:[px(ig.l), px(ig.r)], anchor:'y' + m, range:[0,1],
    showgrid:false, zeroline:false, showticklabels:false, ticks:'', showline:false, fixedrange:true};
  layout['yaxis' + m] = {domain:[py(ig.b), py(ig.t)], anchor:'x' + m, range:rg,
    showgrid:false, zeroline:false, showticklabels:false, ticks:'inside', ticklen:3, tickcolor:'#555',
    tickmode:'array', tickvals:[0.2,0.4,0.6,0.8], showline:false, fixedrange:true};
  layout.shapes.push({type:'rect', xref:'x' + m, yref:'y' + m, x0:0, x1:1, y0:rg[0], y1:rg[1],
    fillcolor:'#ffffff', line:{color:'#222', width:2.2}, layer:'below'});
  traces.push({
    type:'box', x:[0.5], q1:[boxQ1[i]], median:[boxMed[i]], q3:[boxQ3[i]],
    lowerfence:[boxQ1[i]], upperfence:[boxQ3[i]], width:0.36, whiskerwidth:0,
    fillcolor:'#ffffff', line:{color:'#444', width:1}, boxpoints:false,
    xaxis:'x' + m, yaxis:'y' + m, hoverinfo:'skip'
  });
  traces.push({
    type:'scatter', mode:'lines', xaxis:'x' + m, yaxis:'y' + m, hoverinfo:'skip',
    x:[0.5,0.5,null,0.5,0.5], y:[boxQ3[i], boxUpper[i], null, boxQ1[i], boxLower[i]],
    line:{color:'#555', width:1, dash:'dot'}
  });
  traces.push({
    type:'scatter', mode:'lines', xaxis:'x' + m, yaxis:'y' + m, hoverinfo:'skip',
    x:[0.38,0.62,null,0.38,0.62], y:[boxUpper[i], boxUpper[i], null, boxLower[i], boxLower[i]],
    line:{color:'#444', width:1}
  });
  traces.push({
    type:'scatter', mode:'lines', xaxis:'x' + m, yaxis:'y' + m, hoverinfo:'skip',
    x:[0.32,0.68], y:[boxMed[i], boxMed[i]], line:{color:'#222', width:2.4}
  });
}

// ---------- r² heatmap ----------
layout.xaxis11 = {domain:[px(819), px(907)], anchor:'y11', visible:false, fixedrange:true};
layout.yaxis11 = {domain:[py(337), py(37)], anchor:'x11', type:'category', autorange:'reversed', visible:false, fixedrange:true};
traces.push({
  type:'heatmap', x:['r2'], y:panels, z:rValues.map(v => [v]),
  text:rValues.map(v => [v.toFixed(2)]), texttemplate:'%{text}',
  textfont:{family:'"Liberation Sans", Arial, sans-serif', size:12, color:'#333'},
  zmin:-0.85, zmax:0.85, colorscale:[[0,'#2424ee'],[0.5,'#ffffff'],[1,'#ee1111']],
  showscale:false, xaxis:'x11', yaxis:'y11', hoverinfo:'skip', xgap:0, ygap:0
});
panels.forEach(p => layout.annotations.push({
  xref:'paper', yref:'y11', x:px(913), y:p, xanchor:'left', yanchor:'middle', showarrow:false, align:'left',
  text:p, font:{family:FONT, size:21, color:'#333'}
}));

// ---------- Moran's I size legend ----------
layout.xaxis12 = {domain:[px(1115), px(1142)], anchor:'y12', range:[-0.5,0.5], showgrid:false, zeroline:false, showticklabels:false, ticks:'', fixedrange:true};
layout.yaxis12 = {domain:[py(158), py(72)], anchor:'x12', range:[-0.5,2.5], tickmode:'array', tickvals:[0.5,1.5], showgrid:true, gridcolor:'#ffffff', gridwidth:2.5, showticklabels:false, ticks:'', zeroline:false, fixedrange:true};
layout.shapes.push({type:'rect', xref:'x12', yref:'y12', x0:-0.5, x1:0.5, y0:-0.5, y1:2.5, fillcolor:'#f0f0f0', line:{width:0}, layer:'below'});
const keyY = legendZ.map((z, j) => legendZ.length - 1 - j);
traces.push({
  type:'scatter', mode:'markers', x:legendZ.map(() => 0), y:keyY, xaxis:'x12', yaxis:'y12', hoverinfo:'skip',
  marker:{color:'#111', size:legendZ.map(sizePx), line:{width:0}}
});
legendLabels.forEach((t, j) => layout.annotations.push({
  xref:'paper', yref:'y12', x:px(1145), y:keyY[j], xanchor:'left', yanchor:'middle', showarrow:false,
  text:t.replace('>', '&gt;'), font:{family:SERIF, size:14, color:'#777'}
}));
layout.annotations.push({
  xref:'paper', yref:'paper', x:px(1115), y:py(24), xanchor:'left', yanchor:'top', showarrow:false, align:'left',
  text:"Moran's I<br>z-score", font:{family:FONT, size:18, color:'#333'}
});
layout.annotations.push({
  xref:'paper', yref:'paper', x:px(1111), y:py(167), xanchor:'left', yanchor:'top', showarrow:false, align:'left',
  text:'BMU<br>distance', font:{family:FONT, size:17, color:'#333'}
});

Plotly.newPlot('chart', traces, layout, {staticPlot:true, displayModeBar:false});
</script>
</body></html>
